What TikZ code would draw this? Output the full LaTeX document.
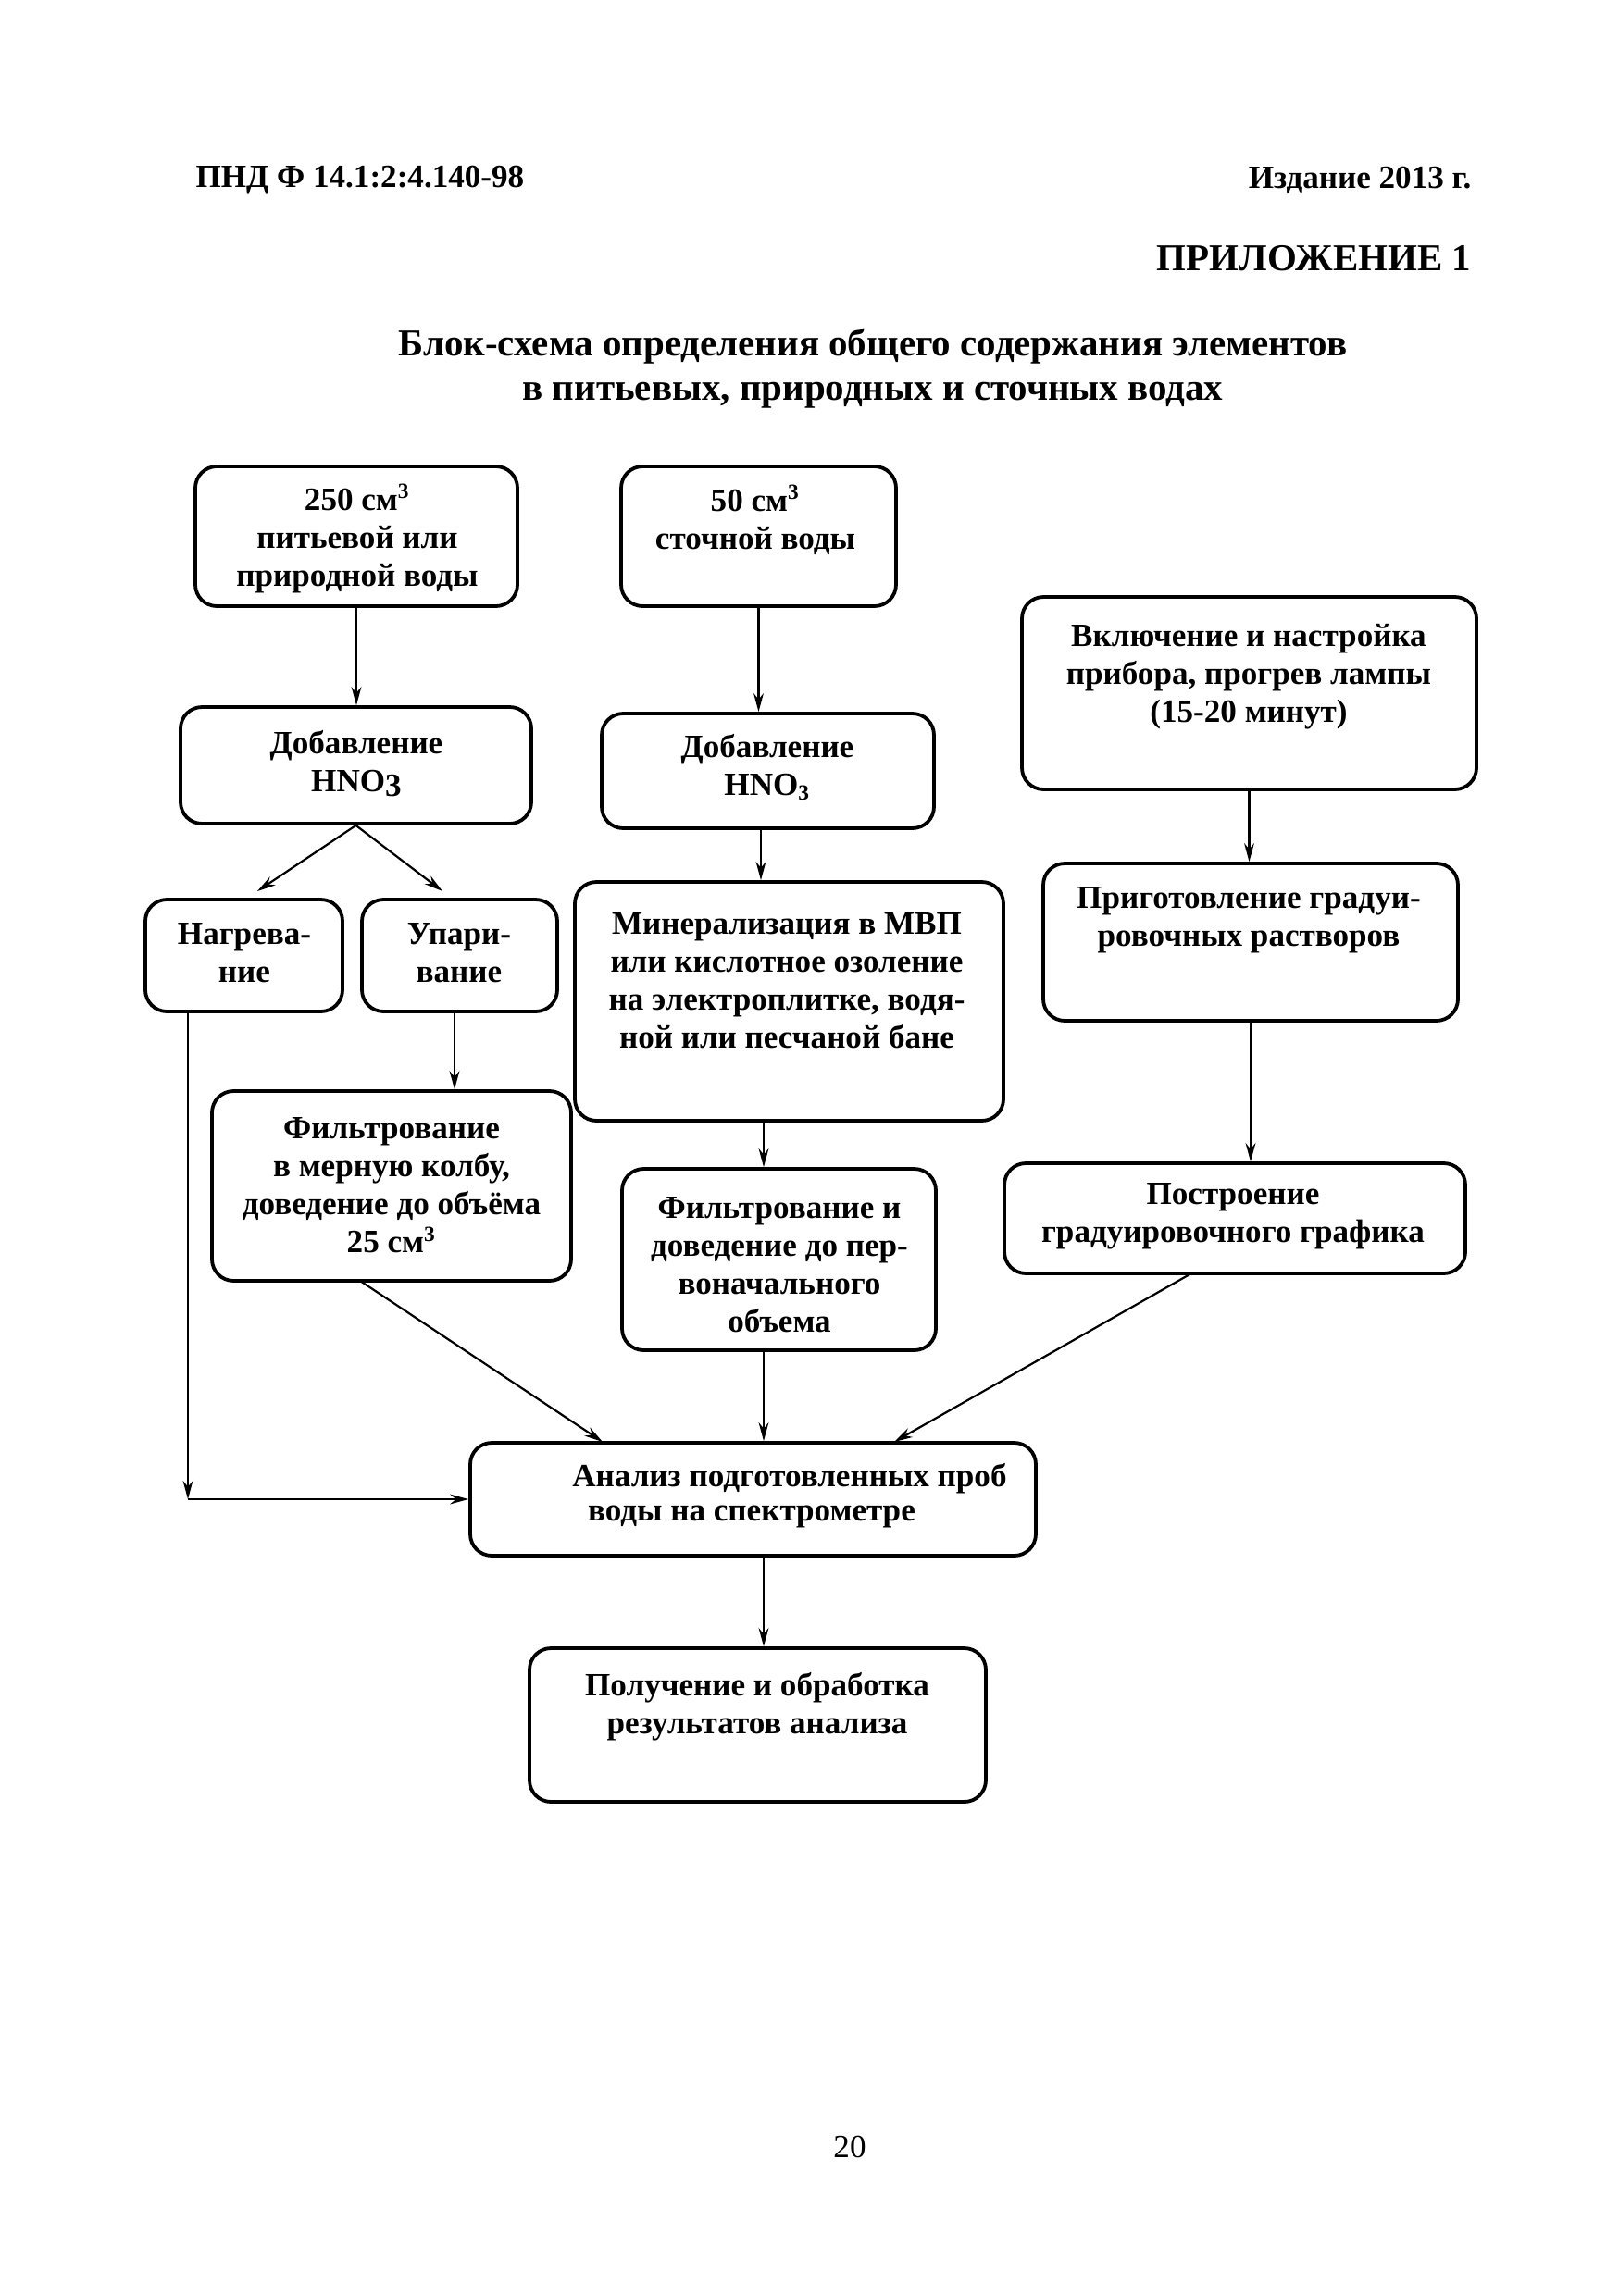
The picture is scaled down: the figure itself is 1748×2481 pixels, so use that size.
\documentclass[tikz,border=0pt]{standalone}
\usepackage{fontspec}
\setmainfont{Liberation Serif}
\usetikzlibrary{arrows.meta,calc}
\newcommand\bx[5]{\node[box,minimum width={(#4-#2)*0.120137mm},minimum height={(#5-#3)*0.120137mm}] (#1) at ({(#2+#4)/2},{(#3+#5)/2}) {};}
\begin{document}
\begin{tikzpicture}[x=0.120137mm,y=-0.120137mm,
  box/.style={draw,line width=1.3pt,rounded corners=2.8mm,inner sep=0pt},
  txt/.style={font=\fontsize{12}{14}\selectfont\bfseries,align=center,inner sep=0pt},
  arr/.style={line width=0.75pt,-{Stealth[length=2.4mm,width=1.3mm]}}]
\useasboundingbox (0,0) rectangle (1748,2481);
% header
\node[txt,anchor=west] (hdr1) at (211,195) {ПНД Ф 14.1:2:4.140-98};
\node[txt,anchor=east] (hdr2) at (1590,195) {Издание 2013 г.};
\node[txt,anchor=east,font=\fontsize{14}{16}\selectfont\bfseries] (app) at (1590,279) {ПРИЛОЖЕНИЕ 1};
\node[txt,font=\fontsize{14}{16.5}\selectfont\bfseries] (title) at (943,398) {Блок-схема определения общего содержания элементов\\в питьевых, природных и сточных водах};
\node[txt,font=\fontsize{12}{14}\selectfont] (pg) at (918,2320) {20};
% boxes
\bx{A}{211}{504}{559}{655}
\bx{B}{671}{504}{968}{655}
\bx{C}{1104}{645}{1595}{853}
\bx{D}{195}{764}{574}{890}
\bx{E}{650}{771}{1009}{895}
\bx{F}{157}{972}{370}{1093}
\bx{G}{391}{972}{602}{1093}
\bx{H}{621}{953}{1084}{1211}
\bx{I}{1127}{933}{1575}{1103}
\bx{J}{229}{1179}{617}{1384}
\bx{K}{672}{1263}{1011}{1459}
\bx{L}{1085}{1257}{1583}{1376}
\bx{M}{508}{1559}{1119}{1681}
\bx{N}{572}{1781}{1065}{1947}
% texts
\node[txt] (tA) at (386,582) {250 см\textsuperscript{3}\\питьевой или\\природной воды};
\node[txt] (tB) at (816,562) {50 см\textsuperscript{3}\\сточной воды};
\node[txt] (tC) at (1349,731) {Включение и настройка\\прибора, прогрев лампы\\(15-20 минут)};
\node[txt] (tD) at (385,825) {Добавление\\HNO\raisebox{-0.35ex}{3}};
\node[txt] (tE) at (829,829) {Добавление\\HNO\textsubscript{3}};
\node[txt] (tF) at (264,1030) {Нагрева-\\ние};
\node[txt] (tG) at (496,1030) {Упари-\\вание};
\node[txt] (tH) at (850,1060) {Минерализация в МВП\\или кислотное озоление\\на электроплитке, водя-\\ной или песчаной бане};
\node[txt] (tI) at (1349,994) {Приготовление градуи-\\ровочных растворов};
\node[txt] (tJ) at (423,1281) {Фильтрование\\в мерную колбу,\\доведение до объёма\\25 см\textsuperscript{3}};
\node[txt] (tK) at (842,1367) {Фильтрование и\\доведение до пер-\\воначального\\объема};
\node[txt] (tL) at (1332,1314) {Построение\\градуировочного графика};
\node[txt] (tM1) at (853,1598) {Анализ подготовленных проб};
\node[txt] (tM2) at (812,1639) {воды на спектрометре};
\node[txt] (tN) at (818,1844) {Получение и обработка\\результатов анализа};
% helper coordinates
\coordinate (cF) at (278,963);
\coordinate (cG) at (478,963);
\coordinate (xg) at (491,0);
\coordinate (xe) at (822,0);
\coordinate (xh) at (825,0);
\coordinate (xf) at (203,0);
\coordinate (jS) at (389,1384);
\coordinate (mJ) at (651,1558);
\coordinate (lS) at (1287,1376);
\coordinate (mL) at (966,1558);
% connectors
\draw[arr] (A.south) -- (A.south |- D.north);
\draw[arr] (B.south) -- (B.south |- E.north);
\draw[arr] (C.south) -- (C.south |- I.north);
\draw[arr] (D.south) -- (cF);
\draw[arr] (D.south) -- (cG);
\draw[arr] (E.south -| xe) -- (H.north -| xe);
\draw[arr] (G.south -| xg) -- (J.north -| xg);
\draw[arr] (H.south -| xh) -- (K.north -| xh);
\draw[arr] (I.south) -- (I.south |- L.north);
\draw[arr] (F.south -| xf) -- (xf |- M.west);
\draw[arr] (xf |- M.west) -- (M.west);
\draw[arr] (jS) -- (mJ);
\draw[arr] (K.south -| xh) -- (M.north -| xh);
\draw[arr] (lS) -- (mL);
\draw[arr] (M.south -| xh) -- (N.north -| xh);
\end{tikzpicture}
\end{document}
